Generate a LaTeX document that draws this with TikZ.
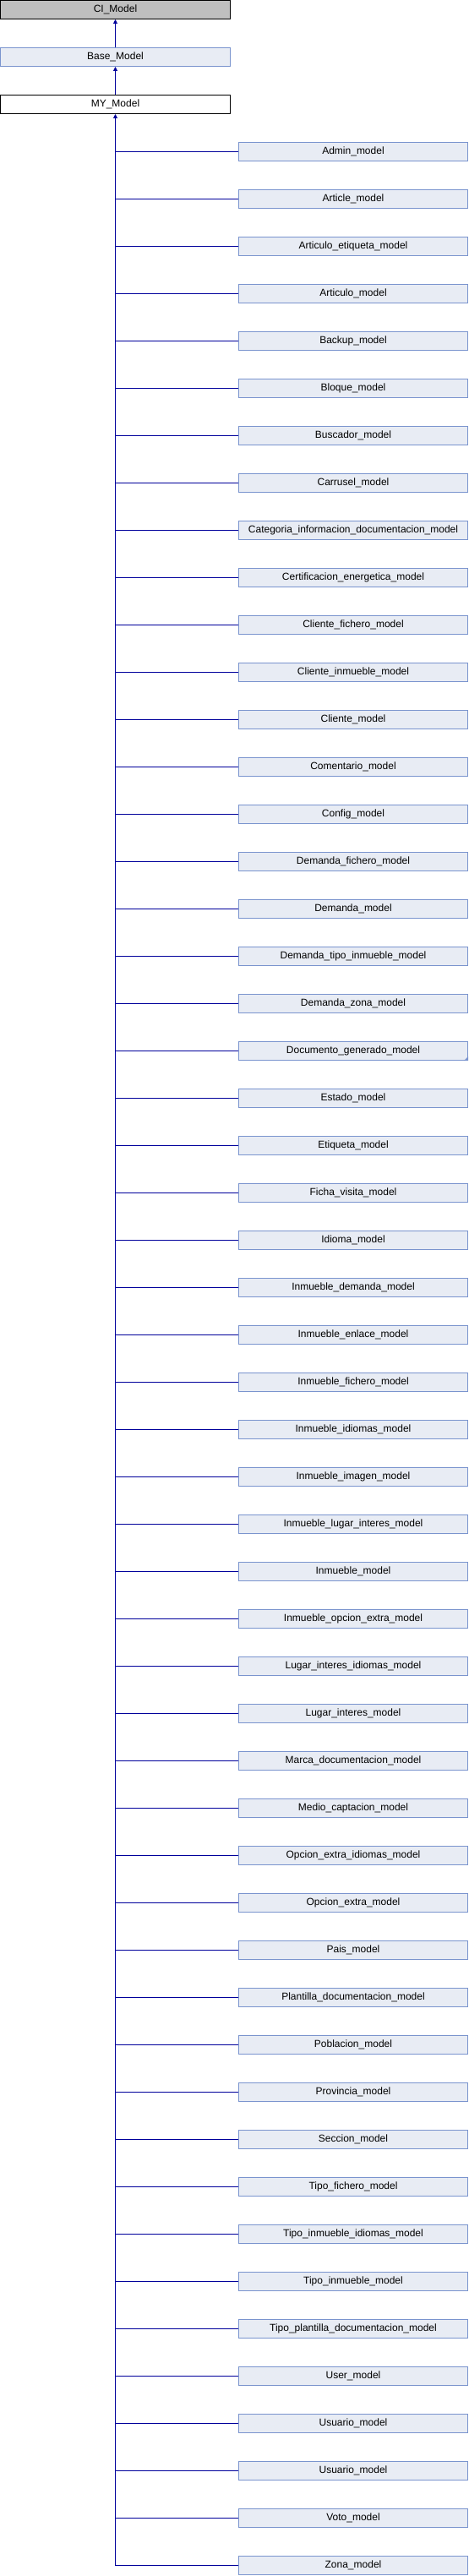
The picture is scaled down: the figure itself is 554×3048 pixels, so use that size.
\documentclass[tikz,border=0pt]{standalone}
\usepackage{fontspec}
\setmainfont{Liberation Sans}
\usetikzlibrary{arrows.meta}
\definecolor{edgeblue}{RGB}{0,0,155}
\definecolor{boxfill}{RGB}{232,236,244}
\definecolor{boxline}{RGB}{122,148,206}
\definecolor{cigray}{RGB}{191,191,191}
\begin{document}
\begin{tikzpicture}[x=1pt,y=-1pt,
  cls/.style={minimum width=272pt,minimum height=22pt,inner sep=0pt,font=\fontsize{12}{14}\selectfont,line width=1pt},
  childbox/.style={cls,minimum width=271pt,draw=boxline,fill=boxfill},
  edgeline/.style={draw=edgeblue,line width=1pt},
  inh/.style={edgeline,-{Triangle[length=5pt,width=5pt]}}]
\useasboundingbox (0,0) rectangle (554,3048);
\fill[white] (0,0) rectangle (554,3048);
\node[cls,draw=black,fill=cigray] (ci) at (136.5,11.5) {CI\_Model};
\node[cls,draw=boxline,fill=boxfill] (base) at (136.5,67.5) {Base\_Model};
\node[cls,draw=black,fill=white] (my) at (136.5,123.5) {MY\_Model};
\draw[inh] (base) -- (ci);
\draw[inh] (my) -- (base);
\foreach \n [count=\i from 3] in {Admin\_model,Article\_model,Articulo\_etiqueta\_model,Articulo\_model,Backup\_model,Bloque\_model,Buscador\_model,Carrusel\_model,Categoria\_informacion\_documentacion\_model,Certificacion\_energetica\_model,Cliente\_fichero\_model,Cliente\_inmueble\_model,Cliente\_model,Comentario\_model,Config\_model,Demanda\_fichero\_model,Demanda\_model,Demanda\_tipo\_inmueble\_model,Demanda\_zona\_model,Documento\_generado\_model,Estado\_model,Etiqueta\_model,Ficha\_visita\_model,Idioma\_model,Inmueble\_demanda\_model,Inmueble\_enlace\_model,Inmueble\_fichero\_model,Inmueble\_idiomas\_model,Inmueble\_imagen\_model,Inmueble\_lugar\_interes\_model,Inmueble\_model,Inmueble\_opcion\_extra\_model,Lugar\_interes\_idiomas\_model,Lugar\_interes\_model,Marca\_documentacion\_model,Medio\_captacion\_model,Opcion\_extra\_idiomas\_model,Opcion\_extra\_model,Pais\_model,Plantilla\_documentacion\_model,Poblacion\_model,Provincia\_model,Seccion\_model,Tipo\_fichero\_model,Tipo\_inmueble\_idiomas\_model,Tipo\_inmueble\_model,Tipo\_plantilla\_documentacion\_model,User\_model,Usuario\_model,Usuario\_model,Voto\_model,Zona\_model}
{
  \node[childbox] (c\i) at (418,56*\i+11.5) {\n};
  \draw[edgeline] (c\i.west -| my.south) -- (c\i.west);
}
\draw[inh] (c54.west -| my.south) -- (my.south);
\fill[boxline] (c22.south east) -- ++(-5,0) -- ++(5,-5) -- cycle;
\end{tikzpicture}
\end{document}
